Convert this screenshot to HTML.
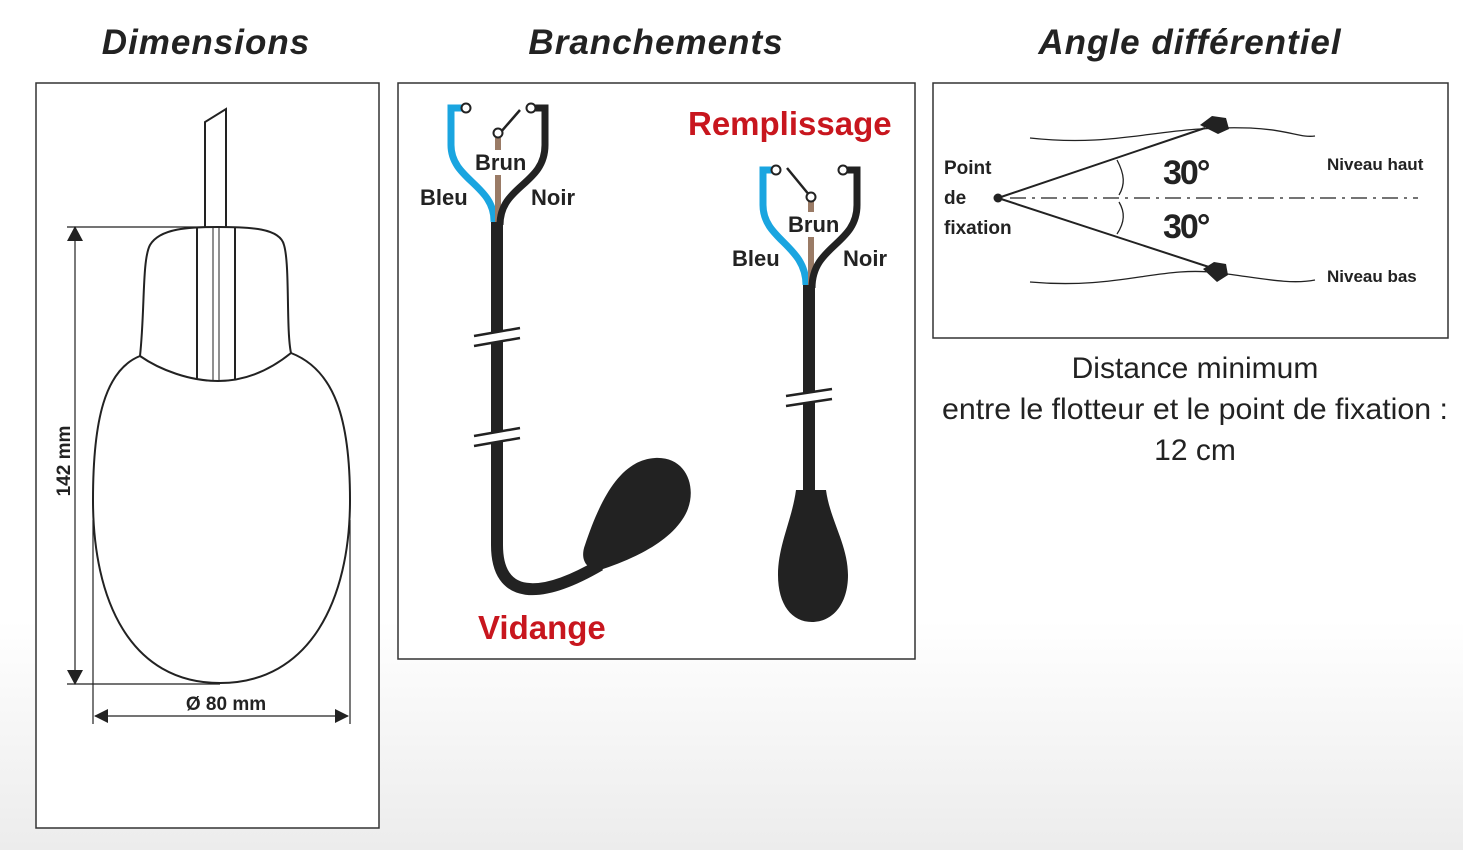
<!DOCTYPE html>
<html><head><meta charset="utf-8"><style>
html,body{margin:0;padding:0;}
body{width:1463px;height:850px;background:linear-gradient(to bottom,#fff 0,#fff 620px,#ececec 850px);overflow:hidden;}
svg{display:block;}
</style></head><body>
<svg width="1463" height="850" viewBox="0 0 1463 850" font-family="Liberation Sans, sans-serif">
<g font-size="35" font-weight="bold" font-style="italic" fill="#222" text-anchor="middle" letter-spacing="1">
<text x="206" y="54">Dimensions</text>
<text x="656" y="54">Branchements</text>
<text x="1190" y="54">Angle différentiel</text>
</g>
<g fill="#fff" stroke="#333" stroke-width="1.5">
<rect x="36" y="83" width="343" height="745"/>
<rect x="398" y="83" width="517" height="576"/>
<rect x="933" y="83" width="515" height="255"/>
</g>
<!-- Dimensions drawing -->
<g fill="none" stroke="#222" stroke-width="2">
<path d="M205,227 V122 L226,109 V227"/>
<path d="M140,356 C145,310 142,260 150,245 C160,228 190,227 218,227 C250,227 280,228 284,245 C290,265 286,330 291,353 C270,370 245,381 218,381 C190,381 160,370 140,356 Z"/>
<path d="M197,228 V380 M235,228 V380" />
<path d="M213,228 V381 M219,228 V381" stroke-width="1"/>
<path d="M140,356 C105,370 93,420 93,500 C93,600 130,683 220,683 C310,683 350,600 350,500 C350,420 335,370 291,353"/>
</g>
<g stroke="#222" stroke-width="1.2" fill="none">
<path d="M67,227 H218 M75,232 V680 M67,684 H220 M93,520 V724 M350,520 V724 M95,716 H348"/>
</g>
<g fill="#222">
<path d="M67,241 L75,226 L83,241 Z"/>
<path d="M67,670 L75,685 L83,670 Z"/>
<path d="M94,716 L108,709 L108,723 Z"/>
<path d="M349,716 L335,709 L335,723 Z"/>
</g>
<text x="70" y="461" font-size="19" font-weight="bold" fill="#222" text-anchor="middle" transform="rotate(-90 70 461)">142 mm</text>
<text x="226" y="710" font-size="19" font-weight="bold" fill="#222" text-anchor="middle">Ø 80 mm</text>
<!-- Branchements left -->
<g fill="none" stroke-linecap="butt">
<path d="M464,108 H451 V145 C451,180 495,185 494,222" stroke="#1aa5e0" stroke-width="7"/>
<path d="M498,138 V150 M498,175 V222" stroke="#9a7b66" stroke-width="6"/>
<path d="M533,108 H545 V145 C545,185 500,185 500,225" stroke="#222" stroke-width="7"/>
<path d="M497,222 V545 C497,600 540,600 600,565" stroke="#222" stroke-width="12"/>
<path d="M500,133 L520,110" stroke="#222" stroke-width="2.5"/>
</g>
<g fill="#fff" stroke="#222" stroke-width="2">
<circle cx="466" cy="108" r="4.5"/><circle cx="498" cy="133" r="4.5"/><circle cx="531" cy="108" r="4.5"/>
</g>
<g stroke="#fff" stroke-width="10"><path d="M476,340 L520,333 M476,440 L520,433"/></g>
<g stroke="#222" stroke-width="2.5"><path d="M474,336 L520,328 M474,346 L520,338 M474,436 L520,428 M474,446 L520,438"/></g>
<path d="M585,545 C600,500 620,460 655,458 C690,456 700,495 682,520 C665,545 630,560 600,570 C585,570 580,558 585,545 Z" fill="#222"/>
<!-- Branchements right -->
<g fill="none">
<path d="M773,170 H763 V205 C763,240 806,245 806,285" stroke="#1aa5e0" stroke-width="7"/>
<path d="M811,201 V212 M811,237 V285" stroke="#9a7b66" stroke-width="6"/>
<path d="M846,170 H857 V205 C857,245 812,245 812,288" stroke="#222" stroke-width="7"/>
<path d="M809,285 V500" stroke="#222" stroke-width="12"/>
<path d="M810,196 L787,168" stroke="#222" stroke-width="2.5"/>
</g>
<g fill="#fff" stroke="#222" stroke-width="2">
<circle cx="776" cy="170" r="4.5"/><circle cx="811" cy="197" r="4.5"/><circle cx="843" cy="170" r="4.5"/>
</g>
<g stroke="#fff" stroke-width="10"><path d="M788,400 L832,394"/></g>
<g stroke="#222" stroke-width="2.5"><path d="M786,396 L832,389 M786,406 L832,399"/></g>
<path d="M796,490 H826 C830,520 848,545 848,575 C848,605 832,622 812,622 C792,622 778,605 778,575 C778,545 792,520 796,490 Z" fill="#222"/>
<g font-size="22" font-weight="bold" fill="#222">
<text x="420" y="205">Bleu</text><text x="475" y="170">Brun</text><text x="531" y="205">Noir</text>
<text x="732" y="266">Bleu</text><text x="788" y="232">Brun</text><text x="843" y="266">Noir</text>
</g>
<g font-size="33" font-weight="bold" fill="#c8161e">
<text x="688" y="135">Remplissage</text>
<text x="478" y="639">Vidange</text>
</g>
<!-- Angle -->
<g fill="none" stroke="#222" stroke-width="1.3">
<path d="M1030,138 C1120,148 1160,125 1250,128 C1290,130 1300,138 1315,136"/>
<path d="M1030,282 C1120,290 1160,265 1220,273 C1260,278 1290,285 1315,280"/>
<path d="M998,198 L1205,128 M998,198 L1212,268" stroke-width="2"/>
<path d="M1010,198 H1418" stroke-dasharray="16,6,3,6"/>
<path d="M1117,160 C1125,175 1125,185 1119,195 M1119,202 C1125,212 1125,222 1117,234"/>
</g>
<circle cx="998" cy="198" r="4.5" fill="#222"/>
<path d="M1200,125 L1212,116 L1226,118 L1229,129 L1218,134 Z" fill="#222"/>
<path d="M1203,269 L1214,262 L1226,264 L1228,275 L1217,282 Z" fill="#222"/>
<g font-weight="bold" fill="#222">
<text x="944" y="174" font-size="19">Point</text>
<text x="944" y="204" font-size="19">de</text>
<text x="944" y="234" font-size="19">fixation</text>
<text x="1163" y="184" font-size="34" letter-spacing="-2">30°</text>
<text x="1163" y="238" font-size="34" letter-spacing="-2">30°</text>
<text x="1327" y="170" font-size="17">Niveau haut</text>
<text x="1327" y="282" font-size="17">Niveau bas</text>
</g>
<g font-size="30" fill="#222" text-anchor="middle">
<text x="1195" y="378">Distance minimum</text>
<text x="1195" y="419" textLength="506" lengthAdjust="spacingAndGlyphs">entre le flotteur et le point de fixation :</text>
<text x="1195" y="460">12 cm</text>
</g>
</svg>
</body></html>
